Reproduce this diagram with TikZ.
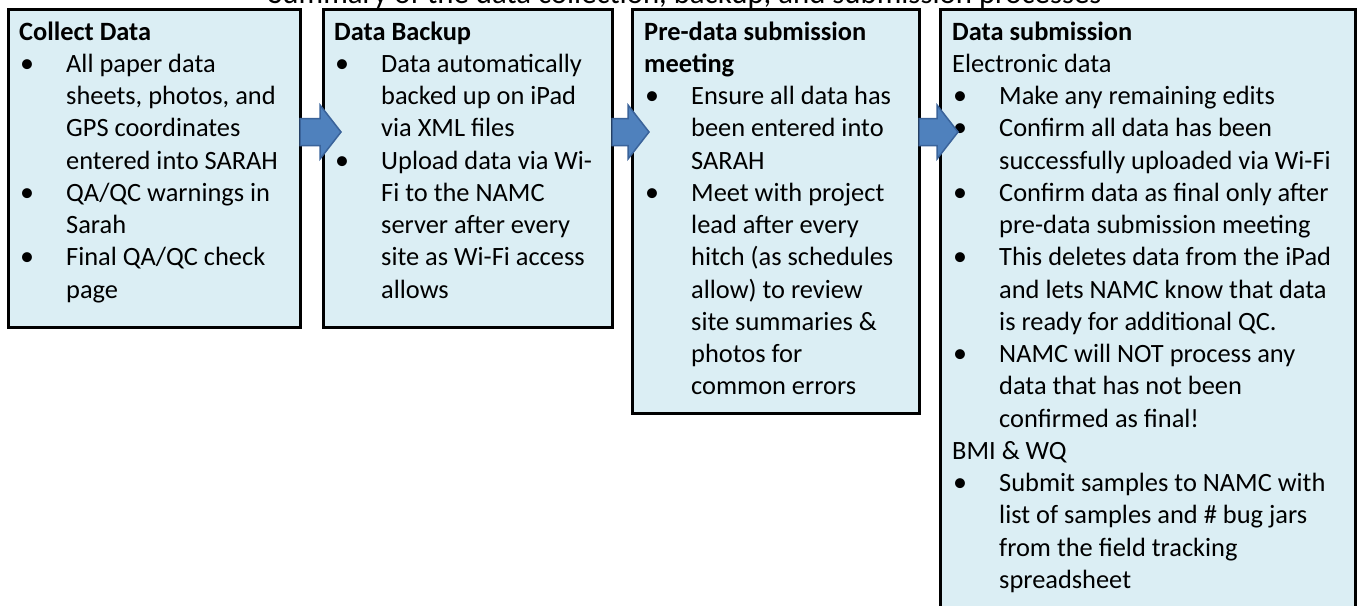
\documentclass[tikz,border=0pt]{standalone}
\usepackage{fontspec}
\setmainfont{Carlito}
\usetikzlibrary{calc}
\definecolor{boxfill}{HTML}{DBEEF4}
\definecolor{arrowfill}{HTML}{4F81BD}
\definecolor{arrowdraw}{HTML}{3A639A}
\tikzset{
  box/.style={draw=black, fill=boxfill, line width=3pt, inner sep=0pt, outer sep=0pt, anchor=north west},
  txt/.style={anchor=north west, inner sep=0pt, align=left, font=\fontsize{26.4}{32.25}\selectfont},
  blockarrow/.style={fill=arrowfill, draw=arrowdraw, line width=1.5pt, line join=miter},
}
\newcommand\bl[1]{\makebox[47pt][l]{\hspace{1pt}{\fontsize{28}{32}\selectfont•}}#1}
\newcommand\cl[1]{\hspace*{47pt}#1}
\newcommand\barrow[2]{%
  \draw[blockarrow] let \p1=(#1), \p2=(#2) in
    (\x1,\y1+13.5pt) -- (\x2-21pt,\y1+13.5pt) -- (\x2-21pt,\y1+27pt) -- (\x2,\y1)
    -- (\x2-21pt,\y1-27pt) -- (\x2-21pt,\y1-13.5pt) -- (\x1,\y1-13.5pt) -- cycle;}
\begin{document}
\begin{tikzpicture}[x=1pt,y=-1pt]
\useasboundingbox[fill=white] (0,0) rectangle (1359,605);
\node[anchor=base, inner sep=0pt, font=\fontsize{30.8}{36}\selectfont] (title) at (685,3)
  {Summary of the data collection, backup, and submission processes};
% boxes
\node[box, minimum width=292pt, minimum height=318pt] (b1) at (8,9) {};
\node[box, minimum width=289pt, minimum height=318pt] (b2) at (323,9) {};
\node[box, minimum width=287pt, minimum height=404pt] (b3) at (632,9) {};
\node[box, minimum width=415pt, minimum height=700pt] (b4) at (940,9) {};
% texts
\node[txt] (t1) at (19,17.4) {\strut\textbf{Collect Data}\\
  \bl{All paper data}\\ \cl{sheets, photos, and}\\ \cl{GPS coordinates}\\ \cl{entered into SARAH}\\
  \bl{QA/QC warnings in}\\ \cl{Sarah}\\
  \bl{Final QA/QC check}\\ \cl{page}};
\node[txt] (t2) at (334,17.4) {\strut\textbf{Data Backup}\\
  \bl{Data automatically}\\ \cl{backed up on iPad}\\ \cl{via XML files}\\
  \bl{Upload data via Wi-}\\ \cl{Fi to the NAMC}\\ \cl{server after every}\\ \cl{site as Wi-Fi access}\\ \cl{allows}};
\node[txt] (t3) at (644,17.4) {\strut\textbf{Pre-data submission}\\ \textbf{meeting}\\
  \bl{Ensure all data has}\\ \cl{been entered into}\\ \cl{SARAH}\\
  \bl{Meet with project}\\ \cl{lead after every}\\ \cl{hitch (as schedules}\\ \cl{allow) to review}\\
  \cl{site summaries \&}\\ \cl{photos for}\\ \cl{common errors}};
\node[txt] (t4) at (952,17.4) {\strut\textbf{Data submission}\\ Electronic data\\
  \bl{Make any remaining edits}\\
  \bl{Confirm all data has been}\\ \cl{successfully uploaded via Wi-Fi}\\
  \bl{Confirm data as final only after}\\ \cl{pre-data submission meeting}\\
  \bl{This deletes data from the iPad}\\ \cl{and lets NAMC know that data}\\ \cl{is ready for additional QC.}\\
  \bl{NAMC will NOT process any}\\ \cl{data that has not been}\\ \cl{confirmed as final!}\\
  BMI \& WQ\\
  \bl{Submit samples to NAMC with}\\ \cl{list of samples and \# bug jars}\\ \cl{from the field tracking}\\ \cl{spreadsheet}};
% arrows
\coordinate (row) at (0,132);
\barrow{b1.east |- row}{$(b2.west |- row)+(18,0)$}
\barrow{b2.east |- row}{$(b3.west |- row)+(17,0)$}
\barrow{b3.east |- row}{$(b4.west |- row)+(18,0)$}
\end{tikzpicture}
\end{document}
